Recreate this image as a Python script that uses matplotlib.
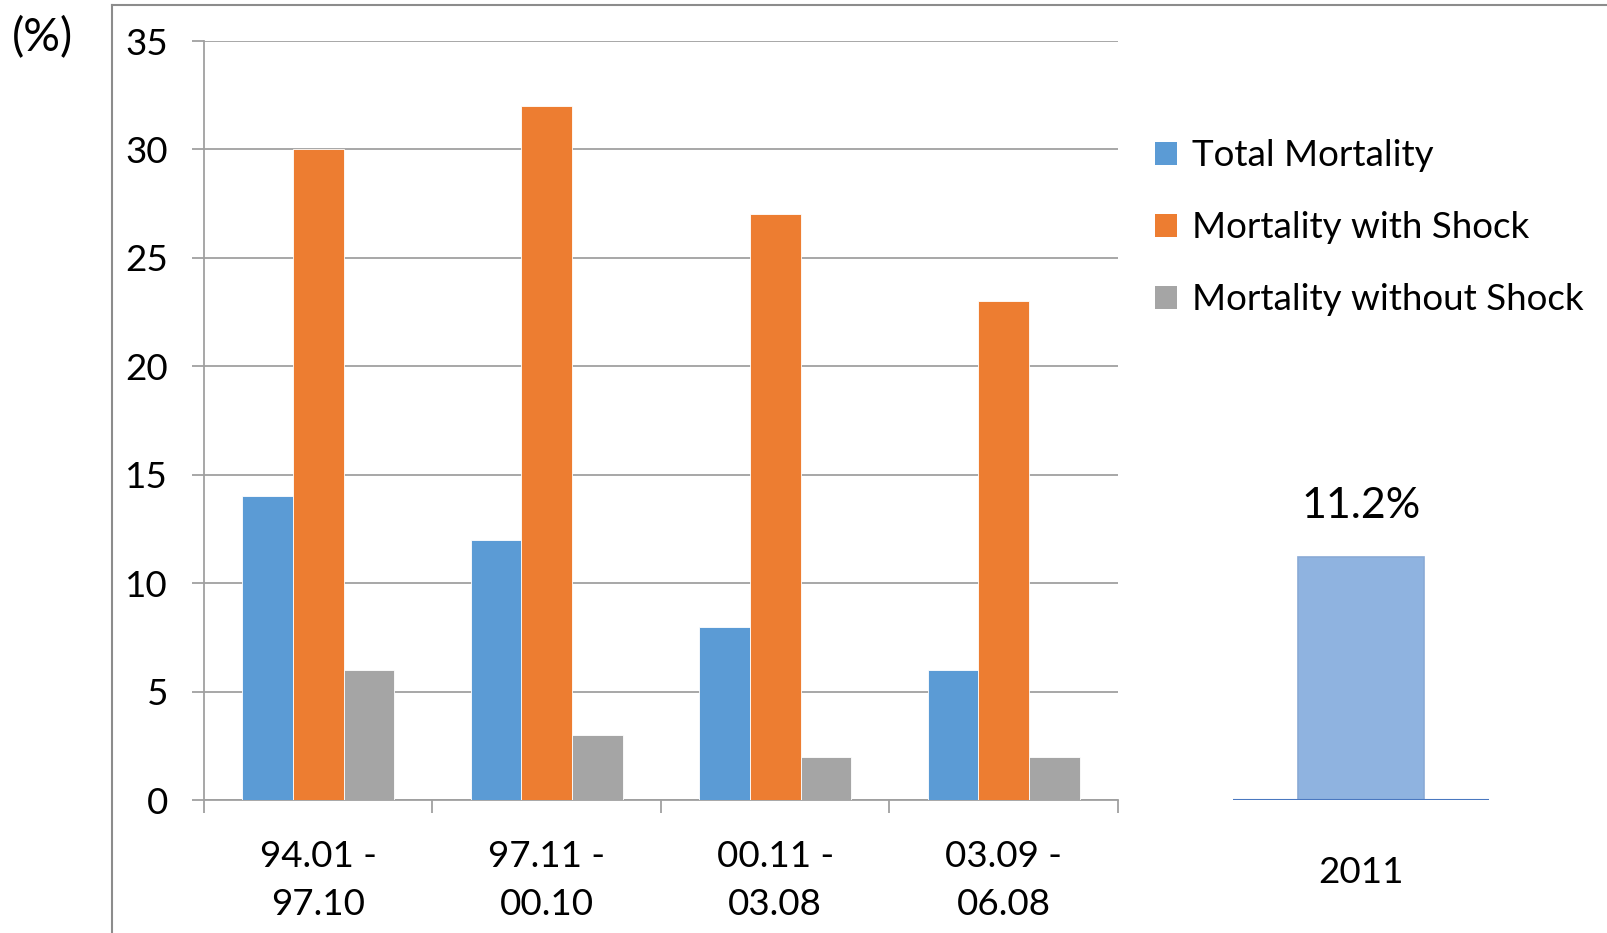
import matplotlib
matplotlib.use("Agg")
import matplotlib.pyplot as plt
import numpy as np
from matplotlib.patches import Patch
from matplotlib.lines import Line2D

plt.rcParams['font.family'] = ['Lato', 'DejaVu Sans']

periods = ["94.01 -\n97.10", "97.11 -\n00.10", "00.11 -\n03.08", "03.09 -\n06.08"]
series_names = ["Total Mortality", "Mortality with Shock", "Mortality without Shock"]
total_mortality = [14, 12, 8, 6]
mortality_with_shock = [30, 32, 27, 23]
mortality_without_shock = [6, 3, 2, 2]
year_label = ["2011"]
year_value = [11.2]
colors = ["#5B9BD5", "#ED7D31", "#A5A5A5"]
yticks = [0, 5, 10, 15, 20, 25, 30, 35]

W, H = 1608, 933
fig = plt.figure(figsize=(W / 100, H / 100), dpi=100)

def fx(px):
    return px / W

def fy(py):
    return 1 - py / H

grid_c = "#A0A0A0"
fs = 26.5

# main grouped bar panel
ax = fig.add_axes([fx(204), fy(800), fx(1118) - fx(204), fy(41) - fy(800)])
x = np.arange(len(periods))
bw = 0.222
for i, vals in enumerate([total_mortality, mortality_with_shock, mortality_without_shock]):
    ax.bar(x + (i - 1) * bw, vals, width=bw, color=colors[i], zorder=3,
           edgecolor="white", linewidth=0.6)
ax.set_xlim(-0.5, len(periods) - 0.5)
ax.set_ylim(0, 35)
ax.set_yticks(yticks)
ax.set_yticklabels([str(t) for t in yticks], fontsize=fs)
ax.yaxis.grid(True, color=grid_c, linewidth=1.3, zorder=0)
ax.set_xticks(np.arange(len(periods) + 1) - 0.5)
ax.set_xticklabels([])
ax.set_xticks(x, minor=True)
ax.set_xticklabels(periods, minor=True, fontsize=fs, linespacing=1.55)
ax.tick_params(axis='x', which='minor', length=0, pad=29)
ax.tick_params(axis='x', which='major', length=9, width=1.3, color=grid_c, direction='out')
ax.tick_params(axis='y', length=9, width=1.3, color=grid_c, pad=17)
for s in ["top", "right"]:
    ax.spines[s].set_visible(False)
for s in ["left", "bottom"]:
    ax.spines[s].set_color(grid_c)
    ax.spines[s].set_linewidth(1.3)

# single-year panel
ax2 = fig.add_axes([fx(1233), fy(800), fx(1489) - fx(1233), fy(41) - fy(800)])
ax2.bar([0], year_value, width=0.49, color="#8FB3E0", edgecolor="#8AAAD6",
        linewidth=1.2, zorder=2)
ax2.set_xlim(-0.5, 0.5)
ax2.set_ylim(0, 35)
ax2.axhline(0, color="#4A78C0", linewidth=1.5, zorder=3)
ax2.text(0, year_value[0] + 1.5, f"{year_value[0]}%", ha="center", va="bottom", fontsize=31)
ax2.set_xticks([0])
ax2.set_xticklabels(year_label, fontsize=fs)
ax2.tick_params(axis='x', length=0, pad=40)
ax2.set_yticks([])
for s in ax2.spines.values():
    s.set_visible(False)

# legend
handles = [Patch(facecolor=c, edgecolor='none') for c in colors]
fig.legend(handles, series_names, loc="upper left",
           bbox_to_anchor=(fx(1137), fy(121)), frameon=False, fontsize=fs,
           handlelength=0.6, handleheight=0.6, handletextpad=0.4,
           labelspacing=1.06, borderpad=0)

# unit label and outer frame
fig.text(fx(12), fy(38), "(%)", fontsize=33, ha="left", va="center")
fig.add_artist(Line2D([fx(112), fx(112)], [fy(5), 0], transform=fig.transFigure,
                      color="#8C8C8C", linewidth=1.5))
fig.add_artist(Line2D([fx(112), 1], [fy(5), fy(5)], transform=fig.transFigure,
                      color="#8C8C8C", linewidth=1.5))

fig.savefig("out.png", dpi=100, facecolor="white")
